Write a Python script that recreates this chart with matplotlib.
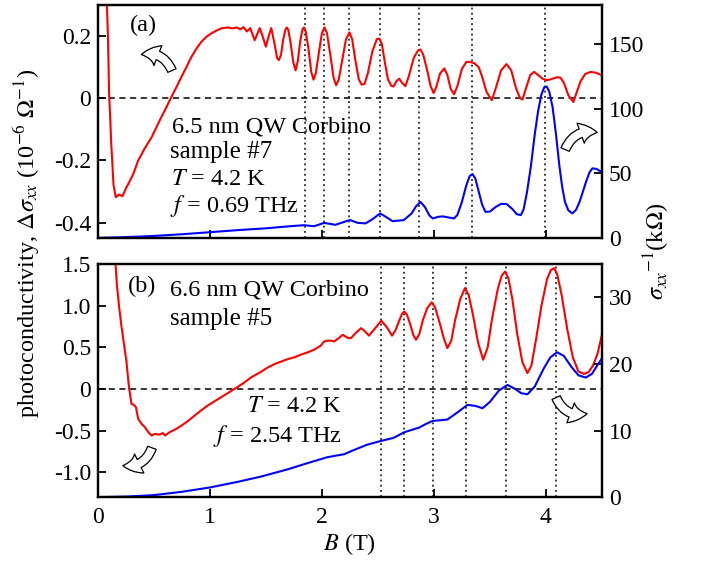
import matplotlib
matplotlib.use('Agg')
import matplotlib.pyplot as plt
from matplotlib.patches import FancyArrowPatch

plt.rcParams['font.family'] = ['Liberation Serif', 'DejaVu Serif']
plt.rcParams['mathtext.fontset'] = 'stix'
plt.rcParams['axes.unicode_minus'] = False

# ---------------- data: panel (a) ----------------
a_red_B = [0.08, 0.09, 0.10, 0.12, 0.14, 0.16, 0.19, 0.22, 0.25, 0.28, 0.32, 0.36, 0.42, 0.48,
           0.52, 0.567, 0.61, 0.65, 0.70, 0.746, 0.79, 0.835, 0.88, 0.924, 0.97, 1.013, 1.06,
           1.10, 1.16, 1.20, 1.24, 1.27, 1.30, 1.33, 1.36, 1.40, 1.445, 1.47, 1.50, 1.525,
           1.548, 1.58, 1.60, 1.616, 1.635, 1.655, 1.675, 1.687, 1.70, 1.72, 1.745, 1.765,
           1.785, 1.805, 1.825, 1.839, 1.855, 1.88, 1.905, 1.925, 1.945, 1.97, 2.00, 2.023,
           2.045, 2.075, 2.105, 2.127, 2.15, 2.18, 2.215, 2.246, 2.27, 2.30, 2.33, 2.355, 2.38,
           2.41, 2.45, 2.49, 2.513, 2.535, 2.56, 2.59, 2.62, 2.64, 2.665, 2.69, 2.715, 2.745,
           2.775, 2.82, 2.86, 2.88, 2.905, 2.94, 2.97, 2.997, 3.02, 3.055, 3.093, 3.12, 3.15,
           3.18, 3.21, 3.25, 3.29, 3.32, 3.36, 3.40, 3.43, 3.47, 3.517, 3.55, 3.60, 3.648,
           3.69, 3.735, 3.77, 3.79, 3.82, 3.86, 3.895, 3.93, 3.97, 4.01, 4.05, 4.10, 4.13,
           4.16, 4.20, 4.245, 4.275, 4.31, 4.35, 4.40, 4.45, 4.50]
a_red_val = [0.31, 0.20, 0.02, -0.15, -0.28, -0.318, -0.31, -0.315, -0.29, -0.27, -0.24, -0.20,
             -0.16, -0.125, -0.095, -0.06, -0.03, 0.0, 0.035, 0.069, 0.10, 0.133, 0.16, 0.182,
             0.198, 0.209, 0.218, 0.225, 0.228, 0.225, 0.228, 0.222, 0.229, 0.215, 0.226, 0.187,
             0.226, 0.20, 0.166, 0.20, 0.226, 0.17, 0.13, 0.123, 0.14, 0.19, 0.222, 0.228, 0.22,
             0.18, 0.115, 0.09, 0.12, 0.18, 0.22, 0.228, 0.215, 0.16, 0.085, 0.06, 0.08, 0.14,
             0.21, 0.228, 0.21, 0.14, 0.065, 0.042, 0.06, 0.12, 0.19, 0.212, 0.19, 0.12, 0.06,
             0.044, 0.046, 0.08, 0.15, 0.19, 0.192, 0.175, 0.12, 0.06, 0.04, 0.038, 0.055, 0.063,
             0.05, 0.039, 0.07, 0.13, 0.155, 0.157, 0.14, 0.09, 0.04, 0.017, 0.035, 0.08, 0.096,
             0.075, 0.03, 0.013, 0.04, 0.095, 0.117, 0.117, 0.113, 0.10, 0.07, 0.02, -0.006,
             0.03, 0.09, 0.11, 0.09, 0.03, 0.0, -0.004, 0.03, 0.075, 0.085, 0.075, 0.063, 0.058,
             0.062, 0.068, 0.066, 0.05, 0.01, -0.012, 0.02, 0.055, 0.078, 0.085, 0.082, 0.074]

a_blue_B = [0.0, 0.25, 0.5, 0.75, 1.0, 1.25, 1.5, 1.73, 1.84, 1.93, 2.02, 2.12, 2.25, 2.32, 2.39,
            2.45, 2.52, 2.58, 2.63, 2.68, 2.73, 2.80, 2.84, 2.88, 2.92, 2.96, 2.99, 3.04, 3.08,
            3.13, 3.18, 3.21, 3.25, 3.29, 3.32, 3.345, 3.37, 3.40, 3.43, 3.46, 3.50, 3.55, 3.60,
            3.65, 3.70, 3.74, 3.776, 3.80, 3.83, 3.865, 3.90, 3.93, 3.96, 3.985, 4.008, 4.03,
            4.06, 4.09, 4.12, 4.145, 4.17, 4.20, 4.236, 4.27, 4.30, 4.325, 4.36, 4.39, 4.415,
            4.45, 4.50]
a_blue_val = [0.2, 0.8, 1.7, 3.0, 4.6, 6.2, 7.6, 9.3, 10.0, 9.2, 11.8, 10.3, 14.0, 11.8, 11.4,
              14.5, 19.1, 16.0, 13.1, 13.5, 13.9, 19.0, 24.5, 28.0, 24.0, 17.5, 15.2, 16.5, 16.8,
              16.0, 15.2, 18.0, 28.0, 41.0, 48.0, 49.5, 46.0, 36.0, 26.0, 20.3, 20.5, 24.0, 26.5,
              26.3, 22.5, 18.5, 17.8, 22.0, 35.0, 55.0, 80.0, 98.0, 111.0, 116.5, 117.0, 113.0,
              101.0, 80.0, 56.0, 39.7, 28.0, 21.5, 19.1, 22.0, 28.0, 34.5, 44.0, 51.0, 53.9,
              53.5, 51.0]

a_marks_B = [1.845, 2.023, 2.246, 2.52, 2.87, 3.34, 3.99]

# ---------------- data: panel (b) ----------------
b_red_B = [0.155, 0.17, 0.19, 0.21, 0.235, 0.256, 0.27, 0.28, 0.30, 0.32, 0.34, 0.36, 0.39, 0.42,
           0.45, 0.48, 0.51, 0.55, 0.58, 0.60, 0.64, 0.70, 0.746, 0.80, 0.864, 0.92, 0.98, 1.04,
           1.10, 1.16, 1.22, 1.30, 1.37, 1.45, 1.52, 1.58, 1.64, 1.70, 1.756, 1.81, 1.874, 1.93,
           1.99, 2.02, 2.05, 2.08, 2.11, 2.15, 2.186, 2.21, 2.235, 2.26, 2.30, 2.35, 2.385, 2.42,
           2.47, 2.53, 2.58, 2.626, 2.655, 2.69, 2.715, 2.736, 2.76, 2.79, 2.815, 2.84, 2.87,
           2.90, 2.94, 2.98, 3.01, 3.05, 3.09, 3.12, 3.155, 3.19, 3.235, 3.277, 3.31, 3.35,
           3.395, 3.44, 3.48, 3.52, 3.57, 3.605, 3.636, 3.665, 3.70, 3.745, 3.79, 3.835, 3.87,
           3.91, 3.96, 4.01, 4.045, 4.073, 4.10, 4.14, 4.19, 4.24, 4.29, 4.34, 4.38, 4.42,
           4.46, 4.50]
b_red_val = [1.55, 1.25, 0.98, 0.76, 0.52, 0.32, 0.12, 0.0, -0.18, -0.19, -0.22, -0.36, -0.42,
             -0.46, -0.52, -0.56, -0.54, -0.55, -0.53, -0.56, -0.52, -0.48, -0.44, -0.39, -0.32,
             -0.26, -0.20, -0.15, -0.10, -0.05, 0.0, 0.07, 0.14, 0.20, 0.26, 0.30, 0.33, 0.36,
             0.38, 0.41, 0.44, 0.47, 0.52, 0.57, 0.58, 0.58, 0.57, 0.61, 0.65, 0.63, 0.61, 0.61,
             0.67, 0.73, 0.69, 0.64, 0.72, 0.82, 0.74, 0.64, 0.70, 0.82, 0.90, 0.93, 0.89, 0.77,
             0.65, 0.59, 0.66, 0.82, 0.97, 1.04, 0.98, 0.80, 0.60, 0.49, 0.58, 0.83, 1.08, 1.21,
             1.13, 0.88, 0.55, 0.35, 0.50, 0.85, 1.20, 1.36, 1.41, 1.33, 1.08, 0.65, 0.32, 0.19,
             0.28, 0.58, 1.00, 1.32, 1.43, 1.45, 1.38, 1.13, 0.72, 0.38, 0.21, 0.18, 0.20, 0.28,
             0.42, 0.65]

b_blue_B = [0.0, 0.25, 0.5, 0.75, 1.0, 1.25, 1.46, 1.70, 1.87, 2.05, 2.20, 2.275, 2.40, 2.53,
            2.64, 2.736, 2.87, 2.93, 2.99, 3.06, 3.12, 3.20, 3.30, 3.37, 3.434, 3.50, 3.58,
            3.657, 3.72, 3.78, 3.835, 3.90, 3.98, 4.04, 4.10, 4.16, 4.23, 4.29, 4.355, 4.41,
            4.46, 4.50]
b_blue_val = [0.0, 0.08, 0.3, 0.8, 1.45, 2.3, 3.1, 4.2, 5.1, 6.0, 6.45, 7.0, 7.85, 8.45, 8.9,
              9.75, 10.45, 11.0, 11.45, 11.55, 11.65, 12.6, 13.85, 13.7, 13.35, 14.3, 16.0,
              16.85, 16.3, 15.6, 15.45, 16.6, 19.3, 21.0, 21.75, 21.2, 19.5, 18.3, 17.95, 18.5,
              19.8, 20.85]

b_marks_B = [2.53, 2.73, 2.99, 3.29, 3.645, 4.09]

# tick labels
x_ticks = [0, 1, 2, 3, 4]
a_left_ticks = [-0.4, -0.2, 0, 0.2]
a_left_labels = ['-0.4', '-0.2', '0', '0.2']
a_right_ticks = [0, 50, 100, 150]
b_left_ticks = [-1.0, -0.5, 0, 0.5, 1.0, 1.5]
b_left_labels = ['-1.0', '-0.5', '0', '0.5', '1.0', '1.5']
b_right_ticks = [0, 10, 20, 30]

RED = '#ff0000'
BLUE = '#0000ff'
FS = 17.5
TFS = 17
LW = 1.5

fig = plt.figure(figsize=(7.04, 5.63), dpi=100)
axA = fig.add_axes([0.139, 0.577, 0.716, 0.414])
axB = fig.add_axes([0.139, 0.117, 0.716, 0.414])
axAr = axA.twinx()
axBr = axB.twinx()


def style(ax):
    for s in ax.spines.values():
        s.set_linewidth(1.6)
    ax.tick_params(direction='in', length=6, width=1.3, labelsize=TFS, pad=5)


for ax in (axA, axB, axAr, axBr):
    style(ax)

# panel (a)
for b in a_marks_B:
    axA.axvline(b, color='k', ls=(0, (1.2, 2.2)), lw=1.1)
axA.axhline(0, color='k', ls=(0, (4, 3)), lw=1.1)
axA.plot(a_red_B, a_red_val, color=RED, lw=LW, solid_joinstyle='round')
axAr.plot(a_blue_B, a_blue_val, color=BLUE, lw=LW, solid_joinstyle='round')
axA.set_xlim(0, 4.5)
axA.set_ylim(-0.45, 0.30)
axAr.set_ylim(0, 180)
axA.set_xticks(x_ticks)
axA.tick_params(labelbottom=False)
axA.set_yticks(a_left_ticks)
axA.set_yticklabels(a_left_labels)
axAr.set_yticks(a_right_ticks)
axAr.set_yticklabels([str(t) for t in a_right_ticks])

# panel (b)
for b in b_marks_B:
    axB.axvline(b, color='k', ls=(0, (1.2, 2.2)), lw=1.1)
axB.axhline(0, color='k', ls=(0, (4, 3)), lw=1.1)
axB.plot(b_red_B, b_red_val, color=RED, lw=LW, solid_joinstyle='round')
axBr.plot(b_blue_B, b_blue_val, color=BLUE, lw=LW, solid_joinstyle='round')
axB.set_xlim(0, 4.5)
axB.set_ylim(-1.3, 1.5)
axBr.set_ylim(0, 35)
axB.set_xticks(x_ticks)
axB.set_xticklabels([str(t) for t in x_ticks])
axB.tick_params(axis='x', pad=7)
axB.set_yticks(b_left_ticks)
axB.set_yticklabels(b_left_labels)
axBr.set_yticks(b_right_ticks)
axBr.set_yticklabels([str(t) for t in b_right_ticks])

# texts panel (a)
axA.text(0.091, 0.914, '(a)', transform=axA.transAxes, ha='center', va='center', fontsize=FS)
axA.text(0.147, 0.452, '6.5 nm QW Corbino', transform=axA.transAxes, ha='left', va='baseline', fontsize=FS)
axA.text(0.143, 0.345, 'sample #7', transform=axA.transAxes, ha='left', va='baseline', fontsize=FS + 0.5)
axA.text(0.145, 0.227, '$T$ = 4.2 K', transform=axA.transAxes, ha='left', va='baseline', fontsize=FS)
axA.text(0.143, 0.113, '$f$ = 0.69 THz', transform=axA.transAxes, ha='left', va='baseline', fontsize=FS)

# texts panel (b)
axB.text(0.088, 0.906, '(b)', transform=axB.transAxes, ha='center', va='center', fontsize=FS)
axB.text(0.143, 0.867, '6.6 nm QW Corbino', transform=axB.transAxes, ha='left', va='baseline', fontsize=FS)
axB.text(0.143, 0.738, 'sample #5', transform=axB.transAxes, ha='left', va='baseline', fontsize=FS + 0.5)
axB.text(0.484, 0.366, '$T$ = 4.2 K', transform=axB.transAxes, ha='right', va='baseline', fontsize=FS)
axB.text(0.484, 0.237, '$f$ = 2.54 THz', transform=axB.transAxes, ha='right', va='baseline', fontsize=FS)

# axis labels
fig.text(0.038, 0.568, r'photoconductivity, $\Delta\sigma_{xx}$ (10$^{-6}$ $\Omega^{-1}$)',
         rotation=90, ha='center', va='center', fontsize=FS)
fig.text(0.933, 0.554, r'$\sigma_{xx}$$^{-1}$(k$\Omega$)', rotation=90, ha='center', va='center',
         fontsize=FS)
fig.text(0.497, 0.034, r'$B$ (T)', ha='center', va='center', fontsize=FS)

# hollow curved arrows
arrow_style = 'simple,head_width=0.9,head_length=0.7,tail_width=0.38'
arrows = [
    (axAr, (0.149, 0.708), (0.081, 0.785), 0.45),
    (axAr, (0.925, 0.369), (0.996, 0.451), -0.45),
    (axBr, (0.109, 0.223), (0.044, 0.137), -0.45),
    (axBr, (0.907, 0.438), (0.976, 0.361), 0.45),
]
for ax, tail, head, rad in arrows:
    p = FancyArrowPatch(tail, head, transform=ax.transAxes, arrowstyle=arrow_style,
                        mutation_scale=17, connectionstyle='arc3,rad=%f' % rad,
                        fc='white', ec='black', lw=0.9, clip_on=False, zorder=5)
    ax.add_patch(p)

fig.savefig('out.png', dpi=100)
